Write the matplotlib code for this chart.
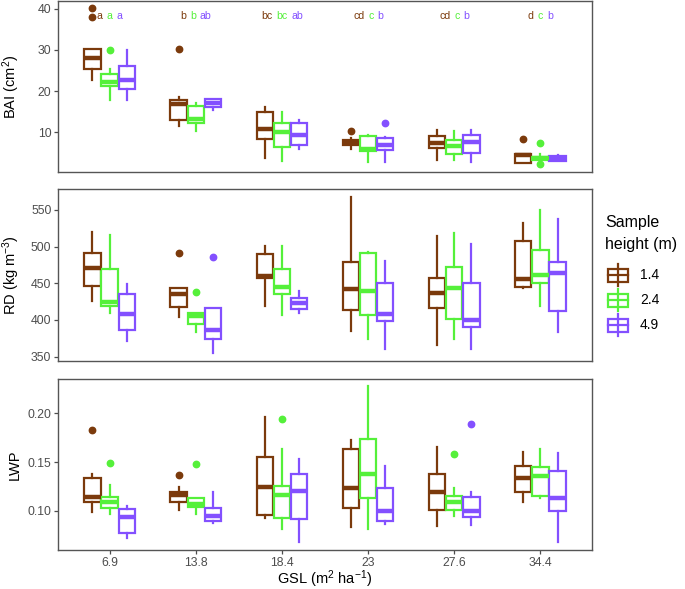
import numpy as np
import matplotlib
matplotlib.use("Agg")
import matplotlib.pyplot as plt
from matplotlib.patches import Rectangle
from matplotlib.offsetbox import TextArea, HPacker, AnnotationBbox

plt.rcParams["font.family"] = ["Liberation Sans", "DejaVu Sans"]
plt.rcParams["mathtext.fontset"] = "custom"
plt.rcParams["mathtext.rm"] = "Liberation Sans"
plt.rcParams["mathtext.it"] = "Liberation Sans:italic"

# ── data ───────────────────────────────────────────────────────────────────
gsl = ["6.9", "13.8", "18.4", "23", "27.6", "34.4"]
heights = ["1.4", "2.4", "4.9"]
colors = ["#7B3A0C", "#55F03A", "#8350FF"]

# per height: rows = 1.4, 2.4, 4.9 ; columns = GSL groups
bai_lo = [[22.8, 11.4, 3.7, 6.0, 3.3, 2.6],
          [17.9, 10.3, 3.0, 2.8, 3.3, 3.0],
          [17.9, 15.3, 5.9, 2.8, 2.8, 2.9]]
bai_q1 = [[25.3, 12.9, 8.4, 6.8, 6.2, 2.6],
          [21.3, 12.2, 6.4, 5.4, 4.6, 3.2],
          [20.4, 16.1, 6.8, 5.6, 5.0, 2.9]]
bai_med = [[28.0, 16.9, 10.8, 7.4, 7.4, 4.4],
           [22.3, 13.3, 10.1, 5.9, 6.6, 3.6],
           [22.6, 17.1, 9.4, 6.8, 7.6, 3.5]]
bai_q3 = [[30.3, 17.9, 14.9, 8.0, 9.0, 4.8],
          [24.2, 16.3, 12.2, 9.1, 8.0, 4.0],
          [26.2, 18.0, 12.2, 8.6, 9.4, 4.1]]
bai_hi = [[30.3, 18.6, 16.0, 8.6, 10.6, 4.8],
          [25.4, 17.2, 14.9, 9.2, 10.2, 4.6],
          [30.1, 18.0, 12.9, 8.8, 10.6, 4.5]]
bai_out = [[[40.2, 38.0], [30.3], [], [10.2], [], [8.4]],
           [[30.0], [], [], [], [], [7.4, 2.2]],
           [[], [], [], [12.3], [], []]]

rd_lo = [[426, 404.5, 419, 385.5, 366, 444],
         [410, 384, 406.8, 373.6, 373.6, 419],
         [371.4, 354.5, 410, 360, 361, 384]]
rd_q1 = [[446.8, 418, 456.8, 413.6, 416, 445.5],
         [419.5, 394, 435, 406.8, 401, 450],
         [386.4, 373.6, 414.5, 398.6, 391, 412.7]]
rd_med = [[471.4, 435.5, 460, 441.8, 437.3, 456.4],
          [425, 406, 444.5, 439.5, 444, 462],
          [408, 386, 423.6, 407.7, 400, 464.5]]
rd_q3 = [[491.8, 443, 490, 479.5, 456.8, 507.7],
         [469, 410, 469, 491, 472.7, 495.5],
         [435.5, 416.8, 429.5, 451, 451, 478.6]]
rd_hi = [[519.5, 443, 501, 568, 515, 531.8],
         [516, 410, 501, 493, 518, 550],
         [448.6, 416.8, 439.5, 481, 503, 537.7]]
rd_out = [[[], [490.9], [], [], [], []],
          [[], [438.6], [], [], [], []],
          [[], [486.4], [], [], [], []]]

lwp_lo = [[0.0993, 0.101, 0.0925, 0.084, 0.0846, 0.1089],
          [0.0966, 0.0966, 0.0812, 0.0816, 0.0949, 0.1137],
          [0.0727, 0.0881, 0.0679, 0.0867, 0.0857, 0.0678]]
lwp_q1 = [[0.1089, 0.1089, 0.0959, 0.1034, 0.101, 0.1198],
          [0.1027, 0.1044, 0.0932, 0.113, 0.101, 0.1157],
          [0.0771, 0.0898, 0.0918, 0.0898, 0.0935, 0.100]]
lwp_med = [[0.1147, 0.1164, 0.1249, 0.1239, 0.1198, 0.1334],
           [0.1096, 0.1072, 0.1164, 0.1375, 0.1089, 0.1362],
           [0.0942, 0.0952, 0.1208, 0.100, 0.100, 0.1136]]
lwp_q3 = [[0.1341, 0.1198, 0.1556, 0.1631, 0.1375, 0.1464],
          [0.114, 0.1137, 0.1259, 0.1734, 0.1157, 0.1454],
          [0.102, 0.1034, 0.1375, 0.1239, 0.1147, 0.1413]]
lwp_hi = [[0.1375, 0.1249, 0.1966, 0.1727, 0.1652, 0.160],
          [0.1266, 0.1137, 0.1635, 0.228, 0.1232, 0.1635],
          [0.1055, 0.1191, 0.1532, 0.1461, 0.1198, 0.159]]
lwp_out = [[[0.1826], [0.1365], [], [], [], []],
           [[0.1495], [0.1478], [0.1939], [], [0.158], []],
           [[], [], [], [], [0.1891], []]]

# significance letters above BAI boxes
letters_14 = ["a", "b", "bc", "cd", "cd", "d"]
letters_24 = ["a", "b", "bc", "c", "c", "c"]
letters_49 = ["a", "ab", "ab", "b", "b", "b"]

# ── figure layout ───────────────────────────────────────────────────────────
W, H = 685, 589
fig = plt.figure(figsize=(W / 100, H / 100), dpi=100)
left, right = 58 / W, 592 / W
ax_top = fig.add_axes([left, 1 - 172 / H, right - left, 171 / H])
ax_mid = fig.add_axes([left, 1 - 361 / H, right - left, 172 / H])
ax_bot = fig.add_axes([left, 1 - 550 / H, right - left, 171 / H])

tick_col = "#4D4D4D"
frame_col = "#555555"
x = np.arange(len(gsl))
offsets = [-0.2, 0.0, 0.2]


def draw_panel(ax, lo, q1, med, q3, hi, out):
    for h in range(3):
        stats = []
        for g in range(len(gsl)):
            stats.append(dict(whislo=lo[h][g], q1=q1[h][g], med=med[h][g],
                              q3=q3[h][g], whishi=hi[h][g], fliers=out[h][g]))
        c = colors[h]
        ax.bxp(stats, positions=x + offsets[h], widths=0.19, showcaps=False,
               patch_artist=True, manage_ticks=False,
               boxprops=dict(facecolor="white", edgecolor=c, linewidth=1.6),
               medianprops=dict(color=c, linewidth=3.2, solid_capstyle="butt"),
               whiskerprops=dict(color=c, linewidth=1.6),
               flierprops=dict(marker="o", markerfacecolor=c, markeredgecolor=c,
                               markersize=4.6))
    ax.set_xlim(-0.6, len(gsl) - 0.4)
    for s in ax.spines.values():
        s.set_color(frame_col)
        s.set_linewidth(1.0)
    ax.tick_params(axis="both", colors=tick_col, labelsize=8.8, length=2.75,
                   width=0.9, pad=2, labelcolor=tick_col)


draw_panel(ax_top, bai_lo, bai_q1, bai_med, bai_q3, bai_hi, bai_out)
draw_panel(ax_mid, rd_lo, rd_q1, rd_med, rd_q3, rd_hi, rd_out)
draw_panel(ax_bot, lwp_lo, lwp_q1, lwp_med, lwp_q3, lwp_hi, lwp_out)

ax_top.set_ylim(0.3, 41.9)
ax_top.set_yticks([10, 20, 30, 40])
ax_mid.set_ylim(344.1, 578.6)
ax_mid.set_yticks([350, 400, 450, 500, 550])
ax_bot.set_ylim(0.060, 0.2351)
ax_bot.set_yticks([0.10, 0.15, 0.20])
ax_bot.set_yticklabels(["0.10", "0.15", "0.20"])

for ax in (ax_top, ax_mid):
    ax.set_xticks([])
ax_bot.set_xticks(x)
ax_bot.set_xticklabels(gsl)
ax_bot.set_xlabel("GSL (m$^2$ ha$^{-1}$)", fontsize=10.5, labelpad=0)

ax_top.set_ylabel("BAI (cm$^2$)", fontsize=10.5)
ax_mid.set_ylabel("RD (kg m$^{-3}$)", fontsize=10.5)
ax_bot.set_ylabel("LWP", fontsize=10.5)
for ax in (ax_top, ax_mid, ax_bot):
    ax.yaxis.set_label_coords(-0.067, 0.5)

# letters
for g in range(len(gsl)):
    parts = [TextArea(s, textprops=dict(color=c, fontsize=7.6))
             for s, c in zip([letters_14[g], letters_24[g], letters_49[g]], colors)]
    pack = HPacker(children=parts, sep=2.8, pad=0, align="baseline")
    ab = AnnotationBbox(pack, (x[g], 38.3), xycoords="data", frameon=False,
                        box_alignment=(0.5, 0.5), pad=0)
    ax_top.add_artist(ab)

# legend drawn in pixel space
lax = fig.add_axes([0, 0, 1, 1])
lax.set_xlim(0, W)
lax.set_ylim(H, 0)
lax.axis("off")
lax.text(605, 223, "Sample", fontsize=11.5, va="center", ha="left", color="black")
lax.text(605, 245, "height (m)", fontsize=11.5, va="center", ha="left", color="black")
for i, (lab, c) in enumerate(zip(heights, colors)):
    yc = 275 + 25 * i
    lax.plot([618, 618], [yc - 11, yc + 11], color=c, lw=1.6)
    lax.add_patch(Rectangle((608, yc - 6.5), 20, 13, facecolor="white",
                            edgecolor=c, lw=1.6))
    lax.plot([608, 628], [yc, yc], color=c, lw=1.6)
    lax.text(640, yc, lab, fontsize=10, va="center", ha="left", color="black")

fig.savefig("out.png", dpi=100)
